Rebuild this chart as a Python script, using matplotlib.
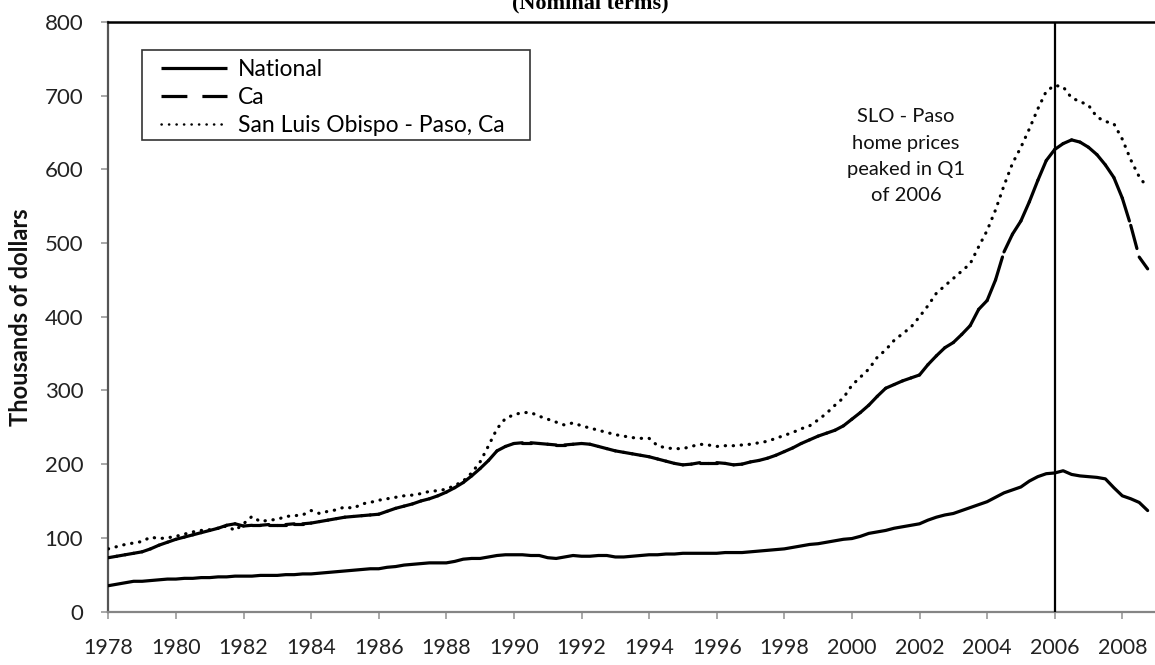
import numpy as np
import matplotlib
matplotlib.use("Agg")
import matplotlib.pyplot as plt
from matplotlib.collections import LineCollection
from matplotlib.lines import Line2D
from matplotlib.patches import Rectangle

plt.rcParams['font.family'] = ['Lato', 'DejaVu Sans']

# quarterly median home prices, thousands of dollars, 1978 Q1 .. 2008 Q4
start_year = 1978
national = [35, 37, 39, 41, 41, 42, 43, 44, 44, 45, 45, 46, 46, 47, 47, 48,
            48, 48, 49, 49, 49, 50, 50, 51, 51, 52, 53, 54, 55, 56, 57, 58,
            58, 60, 61, 63, 64, 65, 66, 66, 66, 68, 71, 72, 72, 74, 76, 77,
            77, 77, 76, 76, 73, 72, 74, 76, 75, 75, 76, 76, 74, 74, 75, 76,
            77, 77, 78, 78, 79, 79, 79, 79, 79, 80, 80, 80, 81, 82, 83, 84,
            85, 87, 89, 91, 92, 94, 96, 98, 99, 102, 106, 108, 110, 113, 115, 117,
            119, 124, 128, 131, 133, 137, 141, 145, 149, 155, 161, 165,
            169, 177, 183, 187, 188, 191, 186, 184, 183, 182, 180, 168,
            157, 153, 148, 137]
ca = [73, 75, 77, 79, 81, 85, 90, 94, 98, 101, 104, 107, 110, 113, 117, 119,
      116, 117, 117, 118, 118, 118, 119, 119, 120, 122, 124, 126, 128, 129, 130, 131,
      132, 136, 140, 143, 146, 150, 153, 157, 162, 168, 175, 184, 194, 205, 218, 224,
      228, 229, 229, 228, 227, 226, 226, 227, 228, 227, 224, 221, 218, 216, 214, 212,
      210, 207, 204, 201, 199, 200, 202, 202, 202, 201, 199, 200, 203, 205, 208, 212,
      217, 222, 228, 233, 238, 242, 246, 252, 261, 270, 280, 292, 303, 308, 313, 317,
      321, 335, 347, 358, 365, 376, 388, 410, 422, 450, 488, 512,
      530, 556, 585, 612, 627, 635, 640, 637, 630, 620, 606, 589,
      561, 524, 481, 465]
slo = [85, 88, 91, 93, 95, 101, 99, 100, 102, 105, 108, 110, 111, 113, 116, 110,
       119, 129, 122, 124, 125, 129, 130, 131, 137, 133, 136, 138, 142, 140, 146, 148,
       151, 153, 155, 157, 158, 160, 163, 164, 166, 171, 177, 188, 203, 225, 248, 262,
       267, 270, 270, 265, 261, 257, 253, 256, 252, 249, 246, 243, 240, 238, 236, 235,
       235, 225, 222, 221, 221, 224, 227, 226, 224, 225, 225, 226, 227, 229, 231, 235,
       239, 243, 248, 252, 260, 269, 280, 290, 307, 318, 329, 345, 355, 368, 377, 386,
       400, 415, 432, 442, 452, 462, 472, 495, 517, 545, 578, 608,
       630, 655, 682, 706, 714, 712, 697, 692, 687, 671, 665, 662,
       641, 613, 590, 575]
labels = ['National', 'Ca', 'San Luis Obispo - Paso, Ca']
peak_year = 2006
note = 'SLO - Paso\nhome prices\npeaked in Q1\nof 2006'
title = '(Nominal terms)'
ylabel = 'Thousands of dollars'

x = start_year + np.arange(len(national)) / 4.0

W, H = 1155, 665
fig = plt.figure(figsize=(W / 100, H / 100), dpi=100)
# plot area runs past the right edge of the picture, like the cropped original
ax = fig.add_axes([108.3 / W, (H - 611.5) / H, 1081.6 / W, 589.5 / H])

lw = 2.3
ax.plot(x, national, color='black', lw=lw, solid_joinstyle='round',
        solid_capstyle='round', zorder=3)

# excel style long dash: pattern restarts on each segment
pts = np.column_stack([x, ca])
segs = np.stack([pts[:-1], pts[1:]], axis=1)
lc = LineCollection(segs, colors='black', linewidths=lw,
                    linestyles=[(0, (7.5, 3.0))], capstyle='round', zorder=3)
ax.add_collection(lc)

ax.plot(x, slo, color='black', lw=lw, linestyle=(0, (0.1, 2.4)),
        dash_capstyle='round', zorder=3)

ax.axvline(peak_year, color='black', lw=1.6, zorder=4)

ax.set_xlim(1978, 2010)
ax.set_ylim(0, 800)
ax.set_xticks(np.arange(1978, 2009, 2))
ax.set_yticks(np.arange(0, 801, 100))

ax.spines['top'].set_color('black')
ax.spines['top'].set_linewidth(1.8)
ax.spines['left'].set_color('#555555')
ax.spines['left'].set_linewidth(1.6)
ax.spines['bottom'].set_color('#858585')
ax.spines['bottom'].set_linewidth(1.6)
ax.spines['right'].set_visible(False)

ax.tick_params(axis='y', direction='out', length=5, width=1.2, color='#999999',
               pad=13, labelsize=16, labelcolor='#222222')
ax.tick_params(axis='x', direction='out', length=5, width=1.2, color='#999999',
               pad=14, labelsize=15.5, labelcolor='#222222')

ax.text(2001.6, 618, note, ha='center', va='center', fontsize=14.5,
        linespacing=1.65, color='#111111')

fig.text(21 / W, 1 - 317 / H, ylabel, rotation=90, ha='center', va='center',
         fontsize=17, fontweight='bold', color='#111111')

fig.text(590 / W, 1 - 8 / H, title, ha='center', va='baseline', fontsize=16,
         fontweight='bold', family=['Liberation Serif', 'DejaVu Serif'])

# legend: excel-like box with wide side padding, drawn separately
box = Rectangle((142 / W, 1 - 140 / H), 388 / W, 90 / H, transform=fig.transFigure,
                facecolor='white', edgecolor='#333333', lw=1.2, zorder=5)
fig.add_artist(box)

handles = [Line2D([], [], color='black', lw=lw, solid_capstyle='butt'),
           Line2D([], [], color='black', lw=lw, linestyle=(0, (8.1, 4.7)),
                  dash_capstyle='butt'),
           Line2D([], [], color='black', lw=1.8, linestyle=(0, (0.1, 2.9)),
                  dash_capstyle='round')]
leg = fig.legend(handles, labels, loc='upper left',
                 bbox_to_anchor=(161 / W, 1 - 59 / H), fontsize=16.5,
                 frameon=False, borderpad=0,
                 handlelength=2.9, handletextpad=0.45, labelspacing=0.3,
                 borderaxespad=0)
leg.set_zorder(6)

fig.savefig('out.png', dpi=100)
